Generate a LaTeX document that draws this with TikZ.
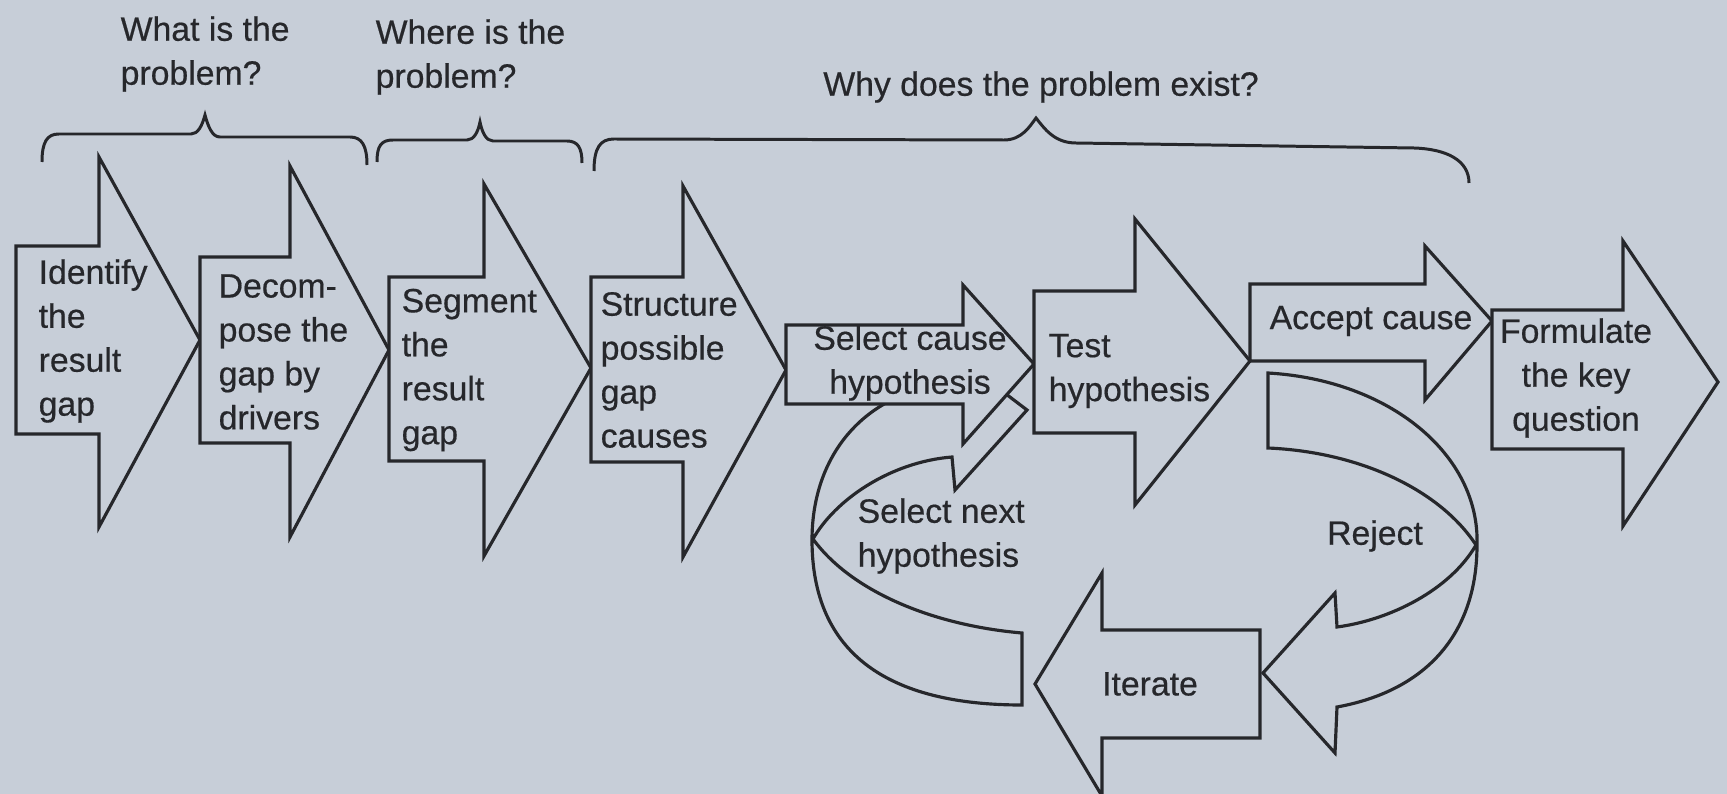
\documentclass[tikz,border=0pt]{standalone}
\usepackage{fontspec}
\setmainfont{Liberation Sans}[FakeBold=0.5]
\definecolor{paper}{HTML}{C7CED8}
\definecolor{ink}{HTML}{26272B}
% block arrow: x0, ytop, ybottom, xbase, headtop, headbottom, tipx, tipy
\newcommand{\blockarrow}[8]{%
  \draw[outline] (#1,#2) -- (#4,#2) -- (#4,#5) -- (#7,#8) -- (#4,#6) -- (#4,#3) -- (#1,#3) -- cycle;}
\begin{document}
\begin{tikzpicture}[x=0.01cm,y=-0.01cm,
  outline/.style={draw=ink, line width=0.9pt, fill=paper, line join=miter},
  bracket/.style={draw=ink, line width=0.85pt},
  lbl/.style={inner sep=0pt, text=ink, font=\fontsize{9.6}{12.5}\selectfont},
]
\useasboundingbox[fill=paper] (0,0) rectangle (1727,794);

% questions above the braces
\node[lbl, anchor=west, align=left] (qwhat) at (120,54) {What is the\\problem?};
\node[lbl, anchor=west, align=left] (qwhere) at (375,57) {Where is the\\problem?};
\node[lbl] (qwhy) at (1041,87) {Why does the problem exist?};

% braces
\draw[bracket] (42,162) .. controls (42,142) and (47,134) .. (59,134) -- (191,134)
  .. controls (198,134) and (202,126) .. (205,115) .. controls (208,126) and (212,137) .. (220,137)
  -- (350,137) .. controls (362,137) and (367,146) .. (367,165);
\draw[bracket] (377,162) .. controls (377,146) and (381,140) .. (393,140) -- (467,140)
  .. controls (474,140) and (478,132) .. (480,122) .. controls (482,132) and (486,141) .. (493,141)
  -- (567,141) .. controls (578,141) and (582,148) .. (582,163);
\draw[bracket] (594,171) .. controls (594,148) and (600,139) .. (614,139) -- (1004,140)
  .. controls (1022,140) and (1030,126) .. (1036,118) .. controls (1044,128) and (1054,143) .. (1076,143)
  -- (1414,148) .. controls (1446,149) and (1469,160) .. (1469,183);

% loop back to the next hypothesis
\draw[outline] (1022,633) .. controls (930,625) and (850,590) .. (813,539)
  .. controls (835,500) and (890,462) .. (952,457) -- (955,490) -- (1027,410) -- (948,350)
  -- (945,385) .. controls (870,392) and (812,450) .. (812,540)
  .. controls (812,655) and (890,705) .. (1022,705) -- cycle;

% reject loop
\draw[outline] (1268,373) -- (1268,448) .. controls (1360,452) and (1440,490) .. (1476,545)
  .. controls (1450,590) and (1390,620) .. (1337,627) -- (1335,593) -- (1263,673)
  -- (1335,753) -- (1337,707) .. controls (1430,690) and (1477,630) .. (1477,545)
  .. controls (1480,455) and (1390,380) .. (1268,373) -- cycle;

% main chain of block arrows
\blockarrow{16}{246}{434}{99}{157}{527}{200}{340}
\blockarrow{200}{257}{443}{290}{166}{537}{389}{350}
\blockarrow{389}{277}{461}{484}{184}{556}{591}{368}
\blockarrow{591}{277}{462}{683}{186}{557}{786}{370}
\blockarrow{786}{325}{404}{963}{285}{444}{1034}{364}
\blockarrow{1034}{291}{433}{1135}{219}{505}{1250}{361}
\blockarrow{1250}{284}{361}{1425}{246}{400}{1492}{321}
\blockarrow{1492}{310}{449}{1623}{241}{526}{1718}{382}
% iterate (pointing left)
\blockarrow{1260}{630}{738}{1102}{573}{796}{1035}{684}

% labels
\node[lbl, anchor=west, align=left] (identify) at (38,341) {Identify\\the\\result\\gap};
\node[lbl, anchor=west, align=left] (decompose) at (218,352) {Decom-\\pose the\\gap by\\drivers};
\node[lbl, anchor=west, align=left] (segment) at (401,370) {Segment\\the\\result\\gap};
\node[lbl, anchor=west, align=left] (structure) at (600,370) {Structure\\possible\\gap\\causes};
\node[lbl, align=center] (select) at (910,363) {Select cause\\hypothesis};
\node[lbl, anchor=west, align=left] (test) at (1048,371) {Test\\hypothesis};
\node[lbl] (accept) at (1371,321) {Accept cause};
\node[lbl, align=center] (formulate) at (1576,378) {Formulate\\the key\\question};
\node[lbl, anchor=west, align=left] (selnext) at (857,536) {Select next\\hypothesis};
\node[lbl] (reject) at (1375,536) {Reject};
\node[lbl] (iterate) at (1150,684) {Iterate};
\end{tikzpicture}
\end{document}
